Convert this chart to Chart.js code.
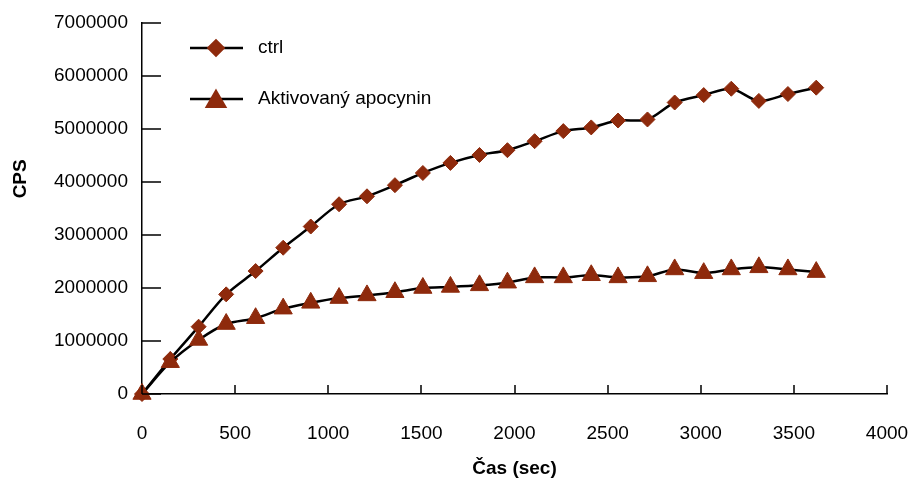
<!DOCTYPE html>
<html>
<head>
<meta charset="utf-8">
<script src="https://cdn.jsdelivr.net/npm/chart.js@4/dist/chart.umd.min.js"></script>
<style>
  html, body { margin: 0; padding: 0; background: #fff; }
  #wrap { width: 910px; height: 485px; position: relative; }
</style>
</head>
<body>
<div id="wrap"><canvas id="chart"></canvas></div>
<script>
// --- Data: time (s) vs CPS ---
const TIME = [0, 152, 304, 452, 610, 758, 906, 1058, 1208, 1358, 1508, 1656, 1812,
  1962, 2108, 2262, 2412, 2556, 2714, 2860, 3016, 3164, 3312, 3468, 3620];
const CTRL = [0, 660000, 1270000, 1880000, 2320000, 2760000, 3160000, 3580000, 3730000,
  3940000, 4170000, 4360000, 4510000, 4600000, 4770000, 4960000, 5030000, 5160000,
  5180000, 5500000, 5640000, 5760000, 5530000, 5660000, 5780000];
const APOCYNIN = [0, 600000, 1020000, 1320000, 1430000, 1610000, 1720000, 1810000, 1860000,
  1920000, 2000000, 2020000, 2050000, 2100000, 2200000, 2200000, 2240000, 2200000,
  2220000, 2350000, 2280000, 2350000, 2390000, 2350000, 2300000];

const SERIES_NAMES = ['ctrl', 'Aktivovaný apocynin'];
const X_TITLE = 'Čas (sec)';
const Y_TITLE = 'CPS';
const X_MIN = 0, X_MAX = 4000, X_STEP = 500;
const Y_MIN = 0, Y_MAX = 7000000, Y_STEP = 1000000;

const MARKER = '#8e2a0c';
const FONT = '"Liberation Sans", Arial, Helvetica, sans-serif';

const toXY = (ys) => ys.map((y, i) => ({ x: TIME[i], y }));

// inward tick marks, like the old spreadsheet style
const innerTicks = {
  id: 'innerTicks',
  afterDraw(chart) {
    const { ctx, chartArea, scales } = chart;
    ctx.save();
    ctx.strokeStyle = '#000';
    ctx.lineWidth = 1.5;
    ctx.beginPath();
    scales.y.ticks.forEach(t => {
      const py = Math.round(scales.y.getPixelForValue(t.value));
      ctx.moveTo(chartArea.left, py);
      ctx.lineTo(chartArea.left + 19, py);
    });
    scales.x.ticks.forEach(t => {
      const px = Math.round(scales.x.getPixelForValue(t.value));
      ctx.moveTo(px, chartArea.bottom);
      ctx.lineTo(px, chartArea.bottom - 9);
    });
    ctx.stroke();
    ctx.restore();
  }
};

// rotated y title, sitting a bit above the middle of the axis
const yTitle = {
  id: 'yTitle',
  afterDraw(chart) {
    const { ctx, chartArea } = chart;
    ctx.save();
    ctx.translate(21, chartArea.top + (chartArea.bottom - chartArea.top) * 0.42);
    ctx.rotate(-Math.PI / 2);
    ctx.font = 'bold 19px ' + FONT;
    ctx.fillStyle = '#000';
    ctx.textAlign = 'center';
    ctx.textBaseline = 'middle';
    ctx.fillText(Y_TITLE, 0, 0);
    ctx.restore();
  }
};

// legend in the top-left corner of the plot
const cornerLegend = {
  id: 'cornerLegend',
  afterDraw(chart) {
    const { ctx, chartArea } = chart;
    const x0 = chartArea.left + 48;
    const rows = [chartArea.top + 25, chartArea.top + 76];
    ctx.save();
    chart.data.datasets.forEach((ds, i) => {
      const y = rows[i];
      ctx.strokeStyle = '#000';
      ctx.lineWidth = 2.5;
      ctx.beginPath();
      ctx.moveTo(x0, y);
      ctx.lineTo(x0 + 53, y);
      ctx.stroke();
      ctx.fillStyle = MARKER;
      ctx.strokeStyle = MARKER;
      Chart.helpers.drawPoint(ctx, {
        pointStyle: ds.pointStyle, radius: ds.pointRadius, rotation: 0, borderWidth: 1
      }, x0 + 26, y + (ds.pointStyle === 'triangle' ? 2.5 : 0));
      ctx.fillStyle = '#000';
      ctx.font = '19px ' + FONT;
      ctx.textBaseline = 'middle';
      ctx.textAlign = 'left';
      ctx.fillText(ds.label, x0 + 68, y);
    });
    ctx.restore();
  }
};

const lineDataset = (label, values, style, radius, order) => ({
  label,
  data: toXY(values),
  borderColor: '#000',
  borderWidth: 2.5,
  tension: 0.3,
  pointStyle: style,
  pointRadius: radius,
  pointHoverRadius: radius,
  pointBackgroundColor: MARKER,
  pointBorderColor: MARKER,
  pointBorderWidth: 1,
  clip: false,
  order
});

new Chart(document.getElementById('chart'), {
  type: 'line',
  data: {
    datasets: [
      lineDataset(SERIES_NAMES[0], CTRL, 'rectRot', 7.5, 1),
      lineDataset(SERIES_NAMES[1], APOCYNIN, 'triangle', 10.5, 0)
    ]
  },
  options: {
    responsive: true,
    maintainAspectRatio: false,
    animation: false,
    layout: { padding: { left: 0, right: 23, top: 23, bottom: 0 } },
    plugins: {
      legend: { display: false },
      tooltip: { enabled: false }
    },
    scales: {
      x: {
        type: 'linear',
        min: X_MIN,
        max: X_MAX,
        grid: { display: false, drawTicks: false },
        border: { display: true, color: '#000', width: 1.5 },
        ticks: {
          stepSize: X_STEP,
          color: '#000',
          padding: 28,
          maxRotation: 0,
          font: { family: FONT, size: 19 },
          callback: (v) => String(v)
        },
        title: {
          display: true,
          text: X_TITLE,
          color: '#000',
          font: { family: FONT, size: 19, weight: 'bold' },
          padding: { top: 0, bottom: 5 }
        },
        afterFit: (s) => {
          s.height = 91;
          s.paddingLeft = 0;
          s.paddingRight = 0;
        }
      },
      y: {
        type: 'linear',
        min: Y_MIN,
        max: Y_MAX,
        grid: { display: false, drawTicks: false },
        border: { display: true, color: '#000', width: 1.5 },
        ticks: {
          stepSize: Y_STEP,
          color: '#000',
          padding: 14,
          font: { family: FONT, size: 19 },
          callback: (v) => String(v)
        },
        afterFit: (s) => {
          s.width = 142;
          s.paddingTop = 0;
          s.paddingBottom = 0;
        }
      }
    }
  },
  plugins: [innerTicks, yTitle, cornerLegend]
});
</script>
</body>
</html>
